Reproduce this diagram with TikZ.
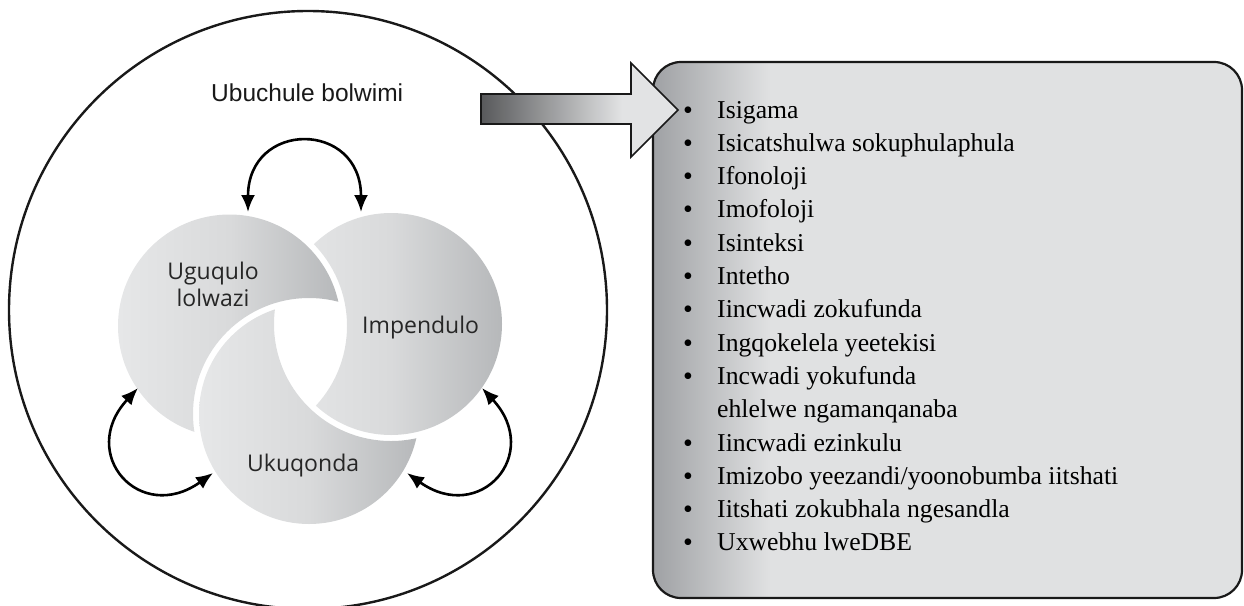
\documentclass[tikz,border=0pt]{standalone}
\usepackage{fontspec}
\setmainfont{Liberation Serif}
\newfontfamily\titlefont{Liberation Sans}
\newfontfamily\labelfont{Open Sans}
\usetikzlibrary{arrows.meta,calc}
\definecolor{circL}{HTML}{E6E7E8}
\definecolor{circM}{HTML}{D9DADB}
\definecolor{circR}{HTML}{B6B8BA}
\definecolor{boxL}{HTML}{9FA1A4}
\definecolor{boxM}{HTML}{E0E1E2}
\definecolor{arrL}{HTML}{58595B}
\definecolor{arrR}{HTML}{E2E3E4}
\begin{document}
\begin{tikzpicture}[x=1pt,y=-1pt,
  circshade/.style={left color=circL, right color=circR, middle color=circM},
  cyc/.style={line width=2.6pt, {Latex[length=17pt,width=14pt]}-{Latex[length=17pt,width=14pt]}},
  bul/.style={anchor=base, inner sep=0pt, font=\fontsize{28}{30}\selectfont},
  item/.style={anchor=base west, inner sep=0pt, font=\fontsize{25.7}{30}\selectfont},
  lab/.style={inner sep=0pt, font=\labelfont\fontsize{23}{27}\selectfont, text=black!85},
  outline/.style={line width=2.4pt, draw=black!90}
]
\useasboundingbox (0,0) rectangle (1244,605);

% outer circle
\coordinate (oc) at (308,310);
\draw[outline] (oc) circle[radius=299pt];

% circle centres
\coordinate (cL) at (229.5,326);
\coordinate (cR) at (391,324);
\coordinate (cB) at (309,414);

% left circle minus (bottom + gap)
\begin{scope}[even odd rule]
  \clip (0,0) -- (1244,0) -- (1244,605) -- (0,605) -- cycle (cB) circle[radius=116pt];
  \shade[circshade] (cL) circle[radius=111.5pt];
\end{scope}
% bottom circle minus (right + gap)
\begin{scope}[even odd rule]
  \clip (0,0) -- (1244,0) -- (1244,605) -- (0,605) -- cycle (cR) circle[radius=117pt];
  \shade[circshade] (cB) circle[radius=110pt];
\end{scope}
% right circle minus (left + gap)
\begin{scope}[even odd rule]
  \clip (0,0) -- (1244,0) -- (1244,605) -- (0,605) -- cycle (cL) circle[radius=117.5pt];
  \shade[circshade] (cR) circle[radius=111pt];
\end{scope}

% labels
\node[anchor=base west, inner sep=0pt, font=\titlefont\fontsize{24.5}{28}\selectfont, text=black!90] (title) at (211,101) {Ubuchule bolwimi};
\node[lab, align=center] (lblL) at (213,284) {Uguqulo\\lolwazi};
\node[lab, anchor=base west] (lblR) at (362,333.3) {Impendulo};
\node[lab, anchor=base west] (lblB) at (247,471.7) {Ukuqonda};

% cycle arrows
\coordinate (tA) at (248,212);
\coordinate (tB) at (361,212);
\draw[cyc] (tA) .. controls ($(tA)+(0,-92)$) and ($(tB)+(0,-92)$) .. (tB);
\coordinate (lA) at (138,388);
\coordinate (lB) at (213,473);
\draw[cyc] (lA) .. controls ($(lA)+(-61,66)$) and ($(lB)+(-73,52)$) .. (lB);
\coordinate (rA) at (482,388);
\coordinate (rB) at (407,473);
\draw[cyc] (rA) .. controls ($(rA)+(61,66)$) and ($(rB)+(73,52)$) .. (rB);

% list box
\coordinate (bx1) at (653,62);
\coordinate (bx2) at (1242,598);
\fill[boxM, rounded corners=28pt] (bx1) rectangle (bx2);
\begin{scope}
  \clip[rounded corners=28pt] (bx1) rectangle (bx2);
  \shade[left color=boxL, right color=boxM] (653,62) rectangle (770,598);
\end{scope}
\draw[line width=2.2pt, draw=black!90, rounded corners=28pt] (bx1) rectangle (bx2);

% block arrow
\begin{scope}
  \clip (481,94) -- (631,94) -- (631,63) -- (678,110) -- (631,157) -- (631,124) -- (481,124) -- cycle;
  \fill[arrR] (470,55) rectangle (690,165);
  \shade[left color=arrL, right color=arrR] (481,55) rectangle (622,165);
\end{scope}
\draw[line width=1.6pt, draw=black!90, line join=miter] (481,94) -- (631,94) -- (631,63) -- (678,110) -- (631,157) -- (631,124) -- (481,124) -- cycle;

% list
\node[bul] (b0) at (688,119) {•};
\node[item] (i0) at (717,118) {Isigama};
\node[bul] (b1) at (688,152.3) {•};
\node[item] (i1) at (717,151.3) {Isicatshulwa sokuphulaphula};
\node[bul] (b2) at (688,185.6) {•};
\node[item] (i2) at (717,184.6) {Ifonoloji};
\node[bul] (b3) at (688,218.9) {•};
\node[item] (i3) at (717,217.9) {Imofoloji};
\node[bul] (b4) at (688,252.2) {•};
\node[item] (i4) at (717,251.2) {Isinteksi};
\node[bul] (b5) at (688,285.5) {•};
\node[item] (i5) at (717,284.5) {Intetho};
\node[bul] (b6) at (688,318.8) {•};
\node[item] (i6) at (717,317.8) {Iincwadi zokufunda};
\node[bul] (b7) at (688,352.1) {•};
\node[item] (i7) at (717,351.1) {Ingqokelela yeetekisi};
\node[bul] (b8) at (688,385.4) {•};
\node[item] (i8) at (717,384.4) {Incwadi yokufunda};
\node[item] (i8b) at (717,417.7) {ehlelwe ngamanqanaba};
\node[bul] (b10) at (688,452) {•};
\node[item] (i10) at (717,451) {Iincwadi ezinkulu};
\node[bul] (b11) at (688,485.3) {•};
\node[item] (i11) at (717,484.3) {Imizobo yeezandi/yoonobumba iitshati};
\node[bul] (b12) at (688,518.6) {•};
\node[item] (i12) at (717,517.6) {Iitshati zokubhala ngesandla};
\node[bul] (b13) at (688,551.9) {•};
\node[item] (i13) at (717,550.9) {Uxwebhu lweDBE};
\end{tikzpicture}
\end{document}
